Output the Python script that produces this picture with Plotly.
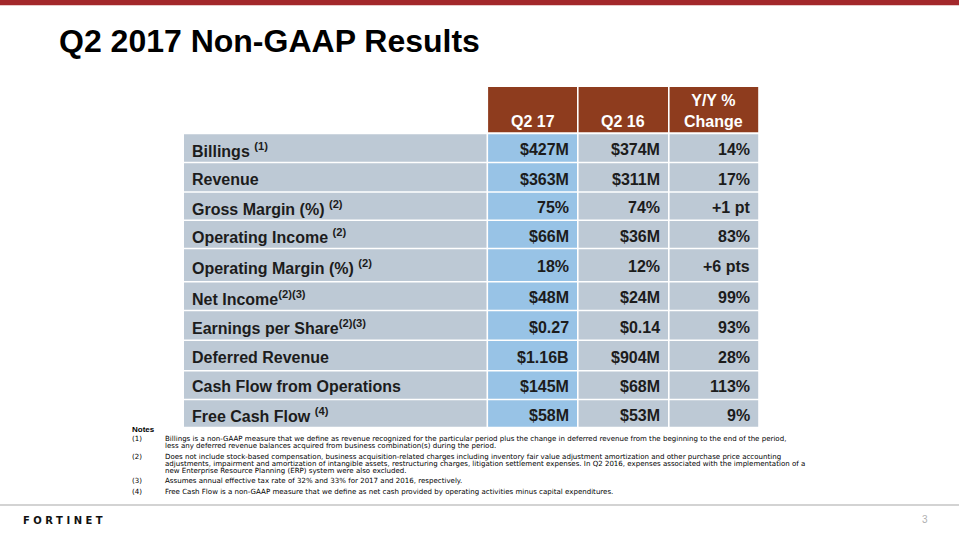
import plotly.graph_objects as go

# ---------------- data ----------------
title = "Q2 2017 Non-GAAP Results"
col_headers = ["Q2 17", "Q2 16", "Y/Y %<br>Change"]
metrics = ["Billings", "Revenue", "Gross Margin (%)", "Operating Income",
           "Operating Margin (%)", "Net Income", "Earnings per Share",
           "Deferred Revenue", "Cash Flow from Operations", "Free Cash Flow"]
footnote_refs = ["(1)", "", "(2)", "(2)", "(2)", "(2)(3)", "(2)(3)", "", "", "(4)"]
q2_17 = ["$427M", "$363M", "75%", "$66M", "18%", "$48M", "$0.27", "$1.16B", "$145M", "$58M"]
q2_16 = ["$374M", "$311M", "74%", "$36M", "12%", "$24M", "$0.14", "$904M", "$68M", "$53M"]
yoy_change = ["14%", "17%", "+1 pt", "83%", "+6 pts", "99%", "93%", "28%", "113%", "9%"]
note_ids = ["(1)", "(2)", "(3)", "(4)"]
note_texts = [
    ["Billings is a non-GAAP measure that we define as revenue recognized for the particular period plus the change in deferred revenue from the beginning to the end of the period,",
     "less any deferred revenue balances acquired from business combination(s) during the period."],
    ["Does not include stock-based compensation, business acquisition-related charges including inventory fair value adjustment amortization and other purchase price accounting",
     "adjustments, impairment and amortization of intangible assets, restructuring charges, litigation settlement expenses. In Q2 2016, expenses associated with the implementation of a",
     "new Enterprise Resource Planning (ERP) system were also excluded."],
    ["Assumes annual effective tax rate of 32% and 33% for 2017 and 2016, respectively."],
    ["Free Cash Flow is a non-GAAP measure that we define as net cash provided by operating activities minus capital expenditures."],
]
page_number = "3"
brand = "FORTINET"

# ---------------- layout geometry (pixel coordinates) ----------------
W, H = 959, 540
col_edges = [184, 487.3, 577.8, 668.8, 759]
header_top, header_bot = 87, 133
row_edges = [133.5, 162.5, 192, 220.2, 248.5, 281.7, 310.5, 340.3, 370.7, 399.5, 427.5]
gap = 0.8
FONT = "Liberation Sans, Arial, Helvetica, sans-serif"
HEADER_COLOR = "#8e3c1e"
GRAY_CELL = "#bdc9d5"
BLUE_CELL = "#98c3e6"
TEXT = "#1c1c1c"
pad = 6.5

shapes = []
annotations = []

def rect(x0, y0, x1, y1, color):
    shapes.append(dict(type="rect", xref="x", yref="y", x0=x0, x1=x1, y0=y0, y1=y1,
                       fillcolor=color, line=dict(width=0), layer="below"))

def text_at_baseline(x, baseline, txt, font, xanchor="left"):
    annotations.append(dict(x=x, y=baseline - 0.33 * font["size"], xref="x", yref="y",
                            text=txt, showarrow=False, xanchor=xanchor, yanchor="middle",
                            font=font))

# top bar
rect(0, 0, W, 5.3, "#a3282b")
# bottom rule
shapes.append(dict(type="line", xref="x", yref="y", x0=0, x1=W, y0=505, y1=505,
                   line=dict(color="#a8a8a8", width=1.2)))

# title
text_at_baseline(57, 52, title, dict(family=FONT, size=32, color="#000", weight="bold"))

# header cells
for j, h in enumerate(col_headers):
    x0, x1 = col_edges[j + 1] + gap, col_edges[j + 2] - gap
    rect(x0, header_top, x1, header_bot - gap, HEADER_COLOR)
    annotations.append(dict(x=(x0 + x1) / 2, y=header_bot - 1.5, xref="x", yref="y",
                            text=h, showarrow=False, xanchor="center", yanchor="bottom",
                            align="center",
                            font=dict(family=FONT, size=16, color="#fff", weight="bold")))

# body
cols = [q2_17, q2_16, yoy_change]
cell_font = dict(family=FONT, size=16, color=TEXT, weight="bold")
for i, m in enumerate(metrics):
    y0, y1 = row_edges[i] + gap, row_edges[i + 1] - gap
    yc = (y0 + y1) / 2 + 1.8
    rect(col_edges[0], y0, col_edges[1] - gap, y1, GRAY_CELL)
    ref = footnote_refs[i]
    if ref:
        sp = "" if ref.startswith("(2)(3)") else " "
        label = f"{m}{sp}<sup>{ref}</sup>"
    else:
        label = m
    annotations.append(dict(x=col_edges[0] + 6, y=yc, xref="x", yref="y", text=label,
                            showarrow=False, xanchor="left", yanchor="middle", font=cell_font))
    for j, vals in enumerate(cols):
        x0, x1 = col_edges[j + 1] + gap, col_edges[j + 2] - gap
        rect(x0, y0, x1, y1, BLUE_CELL if j == 0 else GRAY_CELL)
        annotations.append(dict(x=x1 - pad, y=yc, xref="x", yref="y", text=vals[i],
                                showarrow=False, xanchor="right", yanchor="middle",
                                font=cell_font))

# notes
text_at_baseline(129.5, 431.7, "Notes", dict(family=FONT, size=8, color="#000", weight="bold"))
note_starts = [441.0, 458.5, 483.3, 493.5]
line_step = 6.95
nfont = dict(family="DejaVu Sans, sans-serif", size=7.05, color="#000")
for k, nid in enumerate(note_ids):
    base = note_starts[k]
    text_at_baseline(129.5, base, nid, nfont)
    for li, line in enumerate(note_texts[k]):
        text_at_baseline(163, base + li * line_step, line, nfont)

# footer
annotations.append(dict(x=924.5, y=519.5, xref="x", yref="y", text=page_number, showarrow=False,
                        xanchor="center", yanchor="middle",
                        font=dict(family=FONT, size=10, color="#b0b0b0")))
annotations.append(dict(x=21, y=520, xref="x", yref="y",
                        text=f'<span style="letter-spacing:3.5px">{brand}</span>',
                        showarrow=False, xanchor="left", yanchor="middle",
                        font=dict(family="DejaVu Sans, sans-serif", size=10, color="#111",
                                  weight="bold")))

fig = go.Figure()
fig.update_layout(
    width=W, height=H, autosize=False,
    margin=dict(l=0, r=0, t=0, b=0),
    paper_bgcolor="#ffffff", plot_bgcolor="#ffffff",
    xaxis=dict(range=[0, W], visible=False, fixedrange=True),
    yaxis=dict(range=[H, 0], visible=False, fixedrange=True),
    shapes=shapes, annotations=annotations, showlegend=False,
)
fig.write_html("out.html", config={"displayModeBar": False, "staticPlot": True},
               post_script="document.body.style.margin='0';document.body.style.overflow='hidden';")
